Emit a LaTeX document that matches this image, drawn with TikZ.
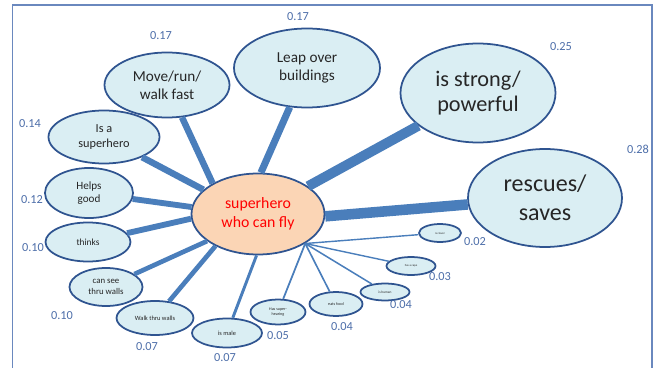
\documentclass[tikz,border=0pt]{standalone}
\usepackage{fontspec}
\setmainfont{Carlito}
\usetikzlibrary{shapes.geometric}
\definecolor{bubblefill}{HTML}{DAEEF3}
\definecolor{bubbleline}{HTML}{2F5490}
\definecolor{corefill}{HTML}{FBD5B5}
\definecolor{spokeblue}{HTML}{4A7EBB}
\definecolor{weightblue}{HTML}{4D6EA9}
\definecolor{framecol}{HTML}{6A88BE}
\newcommand{\fs}[2]{\fontsize{#1}{#2}\selectfont}

\begin{document}
\begin{tikzpicture}[x=0.03cm, y=-0.03cm,
  bubble/.style = {ellipse, draw=bubbleline, line width=1.5pt,
    fill=bubblefill, inner sep=0pt, align=center, text=black!85},
  spoke/.style = {draw=spokeblue, line cap=butt},
  weight/.style = {text=weightblue, font=\fs{10.5}{12}, inner sep=0pt}
  ]
  \useasboundingbox (0,0) rectangle (662,368);
  \draw[framecol, line width=0.9pt] (12.6,368) -- (12.6,5) -- (652,5) -- (652,368);

  % centre
  \node[bubble, fill=corefill, text=red, minimum width=3.99cm, minimum height=2.43cm,
    font=\fs{13.5}{16}] (core) at (258,214) {superhero\\who can fly};

  % big ones
  \node[bubble, minimum width=4.62cm, minimum height=2.94cm, font=\fs{20.5}{25}]
    (rescue) at (545,198) {rescues/\\saves};
  \node[bubble, minimum width=4.65cm, minimum height=2.97cm, font=\fs{19}{22}]
    (strong) at (478,93) {is strong/\\powerful};
  \node[bubble, minimum width=4.38cm, minimum height=2.37cm, font=\fs{13}{16}]
    (leap) at (307,68) {Leap over\\buildings};
  \node[bubble, minimum width=3.75cm, minimum height=1.95cm, font=\fs{13}{15}]
    (move) at (167,85) {Move/run/\\walk fast};
  \node[bubble, minimum width=3.33cm, minimum height=1.59cm, font=\fs{10.5}{13.5}]
    (super) at (104,137) {Is a\\superhero};
  \node[bubble, minimum width=2.64cm, minimum height=1.5cm, font=\fs{9.5}{11.5}]
    (helps) at (89,193) {Helps\\good};
  \node[bubble, minimum width=2.55cm, minimum height=1.17cm, font=\fs{8}{10}]
    (thinks) at (88,242) {thinks};
  \node[bubble, minimum width=2.19cm, minimum height=1.14cm, font=\fs{7.5}{9.5}]
    (cansee) at (106,287) {can see\\thru walls};
  \node[bubble, minimum width=2.31cm, minimum height=1.02cm, font=\fs{5.5}{7}]
    (walk) at (155,318) {Walk thru walls};
  \node[bubble, minimum width=2.1cm, minimum height=0.87cm, font=\fs{5.4}{7}]
    (male) at (227,333) {is male};

  % small ones
  \node[bubble, minimum width=1.65cm, minimum height=0.75cm, font=\fs{3.5}{5}]
    (hearing) at (278,312) {Has super-\\hearing};
  \node[bubble, minimum width=1.59cm, minimum height=0.72cm, font=\fs{3.5}{5}]
    (food) at (336,304) {eats food};
  \node[bubble, minimum width=1.47cm, minimum height=0.51cm, font=\fs{3}{4}]
    (human) at (385,292) {is human};
  \node[bubble, minimum width=1.47cm, minimum height=0.54cm, font=\fs{2.5}{3}]
    (cape) at (411,266) {has a cape};
  \node[bubble, minimum width=1.26cm, minimum height=0.54cm, font=\fs{2.5}{3}]
    (clever) at (440,233) {is clever};

  % spokes
  \draw[spoke, line width=9pt] (core.-2) -- (rescue);
  \draw[spoke, line width=8.5pt] (core.29) -- (strong);
  \draw[spoke, line width=6pt] (core.86) -- (leap);
  \draw[spoke, line width=5.5pt] (core.146) -- (move);
  \draw[spoke, line width=5.5pt] (core.156) -- (super);
  \draw[spoke, line width=5pt] (core.174) -- (helps);
  \draw[spoke, line width=5pt] (core.184) -- (thinks);
  \draw[spoke, line width=4pt] (core.208) -- (cansee);
  \draw[spoke, line width=4pt] (core.217) -- (walk);
  \draw[spoke, line width=2.5pt] (core.268) -- (male);
  \coordinate (hub) at (core.-32);
  \draw[spoke, line width=1.5pt] (hub) -- (hearing);
  \draw[spoke, line width=1.4pt] (hub) -- (food);
  \draw[spoke, line width=1.3pt] (hub) -- (human);
  \draw[spoke, line width=1.2pt] (hub) -- (cape);
  \draw[spoke, line width=1.2pt] (hub) -- (clever);

  % weights
  \node[weight] (w-rescue) at (638,149) {0.28};
  \node[weight] (w-strong) at (561,47) {0.25};
  \node[weight] (w-leap) at (298,17) {0.17};
  \node[weight] (w-move) at (161,36) {0.17};
  \node[weight] (w-super) at (30,124) {0.14};
  \node[weight] (w-helps) at (32,200) {0.12};
  \node[weight] (w-thinks) at (33,248) {0.10};
  \node[weight] (w-cansee) at (62,316) {0.10};
  \node[weight] (w-walk) at (147,347) {0.07};
  \node[weight] (w-male) at (225,358) {0.07};
  \node[weight] (w-hearing) at (278,336) {0.05};
  \node[weight] (w-food) at (342,327) {0.04};
  \node[weight] (w-human) at (401,305) {0.04};
  \node[weight] (w-cape) at (440,277) {0.03};
  \node[weight] (w-clever) at (475,242) {0.02};
\end{tikzpicture}
\end{document}
